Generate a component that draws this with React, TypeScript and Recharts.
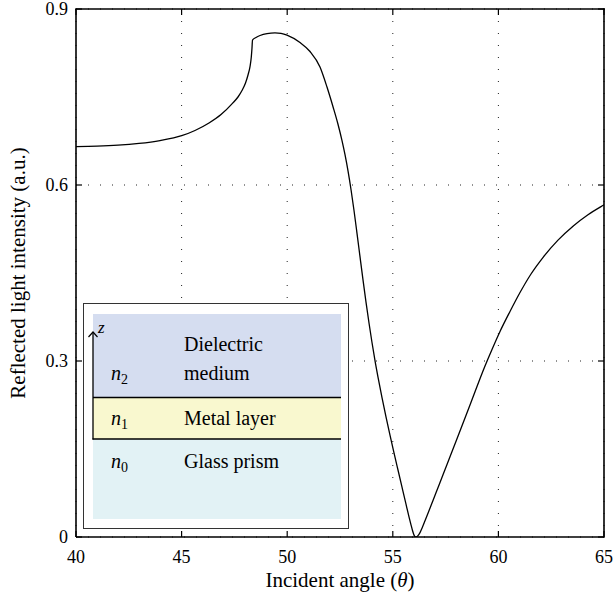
import React from 'react';
import { LineChart, Line, XAxis, YAxis, CartesianGrid } from 'recharts';

const angles = [
  40.0, 40.994, 41.989, 42.983, 43.977, 45.005, 45.634, 46.297, 46.866, 47.419, 47.67, 47.86,
  48.026, 48.144, 48.239, 48.3, 48.333, 48.357, 48.523, 48.712, 49.044, 49.422, 49.706, 49.991,
  50.606, 51.08, 51.553, 51.884, 52.169, 52.405, 52.595, 52.737, 52.879, 53.021, 53.163, 53.305,
  53.447, 53.589, 53.731, 53.873, 54.015, 54.181, 54.299, 54.489, 54.678, 54.867, 55.057, 55.246,
  55.436, 55.625, 55.767, 55.862, 55.933, 55.99, 56.037, 56.075, 56.122, 56.193, 56.288, 56.383,
  56.525, 56.69, 56.856, 57.045, 57.377, 57.708, 58.026, 58.655, 59.366, 59.697, 60.076, 60.549,
  61.023, 61.544, 62.126, 62.822, 63.546, 64.242, 64.967, 65.0,
];
const intensity = [
  0.6653, 0.6661, 0.6678, 0.6709, 0.6758, 0.684, 0.6929, 0.7057, 0.7201, 0.7396, 0.75, 0.761,
  0.7738, 0.7875, 0.8019, 0.8181, 0.8335, 0.8471, 0.8514, 0.8548, 0.8582, 0.8594, 0.8585, 0.8556,
  0.8428, 0.8275, 0.8011, 0.767, 0.7334, 0.7036, 0.6756, 0.6516, 0.624, 0.5923, 0.5565, 0.5176,
  0.4778, 0.4384, 0.4005, 0.3648, 0.3315, 0.2957, 0.2724, 0.2376, 0.2049, 0.1735, 0.1435, 0.1142,
  0.0849, 0.0559, 0.0344, 0.0208, 0.0111, 0.0046, 0.001, 0.0, 0.0003, 0.0024, 0.0075, 0.015,
  0.0276, 0.0426, 0.058, 0.0755, 0.106, 0.1369, 0.1662, 0.225, 0.2915, 0.3196, 0.3503, 0.3844,
  0.4167, 0.4483, 0.4772, 0.5061, 0.5303, 0.5494, 0.5655, 0.5662,
];
const xTicks = [40, 45, 50, 55, 60, 65];
const yTicks = [0, 0.3, 0.6, 0.9];
const yTickLabels = ['0', '0.3', '0.6', '0.9'];
const xDomain = [40, 65];
const yDomain = [0, 0.9];

const data = angles.map((a, i) => ({ angle: a, r: intensity[i] }));

const FONT = 'Liberation Serif, Times New Roman, serif';
const TL = 6;
const W = 616;
const H = 605;
const MARGIN = { top: 9, right: 12, left: 0, bottom: 0 };
const Y_AXIS_W = 76;
const X_AXIS_H = 68;
const PLOT = {
  left: MARGIN.left + Y_AXIS_W,
  top: MARGIN.top,
  right: W - MARGIN.right,
  bottom: H - MARGIN.bottom - X_AXIS_H,
};
const FRAME_W = 1.6;
const sx = (v: number) => PLOT.left + ((v - xDomain[0]) / (xDomain[1] - xDomain[0])) * (PLOT.right - PLOT.left);
const sy = (v: number) => PLOT.bottom - ((v - yDomain[0]) / (yDomain[1] - yDomain[0])) * (PLOT.bottom - PLOT.top);

const BottomTick = (p: any) => (
  <g>
    <line x1={p.x} x2={p.x} y1={p.y} y2={p.y - TL} stroke="#000" strokeWidth={1.2} />
    <text x={p.x} y={p.y + 26} textAnchor="middle" fontFamily={FONT} fontSize={18} fill="#000">
      {p.payload.value}
    </text>
  </g>
);
const LeftTick = (p: any) => {
  const v = p.payload.value;
  const idx = yTicks.indexOf(v);
  return (
    <g>
      <line x1={p.x} x2={p.x + TL} y1={p.y} y2={p.y} stroke="#000" strokeWidth={1.2} />
      <text x={p.x - 8} y={p.y + 6} textAnchor="end" fontFamily={FONT} fontSize={18} fill="#000">
        {idx >= 0 ? yTickLabels[idx] : v}
      </text>
    </g>
  );
};

const XLabel = (p: any) => {
  const vb = p.viewBox || { x: 76, y: 537, width: 528 };
  return (
    <text x={vb.x + vb.width / 2} y={vb.y + 50} textAnchor="middle" fontFamily={FONT} fontSize={21} fill="#000">
      Incident angle (<tspan fontStyle="italic">θ</tspan>)
    </text>
  );
};
const YLabel = (p: any) => {
  const vb = p.viewBox || { x: 0, y: 9, height: 528 };
  const cy = vb.y + vb.height / 2;
  return (
    <text x={25} y={cy} transform={`rotate(-90, 25, ${cy})`} textAnchor="middle" fontFamily={FONT} fontSize={21} fill="#000">
      Reflected light intensity (a.u.)
    </text>
  );
};

const Overlay = () => (
  <svg style={{ position: 'absolute', left: 0, top: 0, pointerEvents: 'none' }} width={W} height={H}>
    {/* frame (top and right edges) with inward ticks */}
    <line x1={PLOT.left - FRAME_W / 2} x2={PLOT.right + FRAME_W / 2} y1={PLOT.top} y2={PLOT.top} stroke="#000" strokeWidth={FRAME_W} />
    <line x1={PLOT.right} x2={PLOT.right} y1={PLOT.top - FRAME_W / 2} y2={PLOT.bottom + FRAME_W / 2} stroke="#000" strokeWidth={FRAME_W} />
    {xTicks.map((t) => (
      <line key={'tx' + t} x1={sx(t)} x2={sx(t)} y1={PLOT.top} y2={PLOT.top + TL} stroke="#000" strokeWidth={1.2} />
    ))}
    {yTicks.map((t) => (
      <line key={'ty' + t} x1={PLOT.right} x2={PLOT.right - TL} y1={sy(t)} y2={sy(t)} stroke="#000" strokeWidth={1.2} />
    ))}
    {/* inset diagram */}
    <rect x={83.5} y={303.5} width={265} height={225} fill="#fff" stroke="#333" strokeWidth={1} />
    <rect x={93} y={314} width={248} height={83} fill="#d5ddf0" />
    <rect x={93} y={397} width={248} height={42} fill="#f9f8cf" />
    <rect x={93} y={439} width={248} height={80} fill="#e2f2f5" />
    <line x1={93} x2={341} y1={397.5} y2={397.5} stroke="#000" strokeWidth={1.5} />
    <line x1={92.5} x2={341} y1={439} y2={439} stroke="#000" strokeWidth={1.5} />
    <line x1={93} x2={93} y1={439.5} y2={332} stroke="#000" strokeWidth={1.3} />
    <polyline points="88.5,337 93,332 97.5,337" fill="none" stroke="#000" strokeWidth={1.2} />
    <text x={98} y={333} fontFamily={FONT} fontStyle="italic" fontSize={17} fill="#000">z</text>
    <g fontFamily={FONT} fontSize={20} fill="#000">
      <text x={184} y={351}>Dielectric</text>
      <text x={184} y={380}>medium</text>
      <text x={184} y={425}>Metal layer</text>
      <text x={184} y={468}>Glass prism</text>
      <text x={111} y={380}>
        <tspan fontStyle="italic">n</tspan>
        <tspan fontSize={14} dy={4}>2</tspan>
      </text>
      <text x={111} y={425}>
        <tspan fontStyle="italic">n</tspan>
        <tspan fontSize={14} dy={4}>1</tspan>
      </text>
      <text x={111} y={468}>
        <tspan fontStyle="italic">n</tspan>
        <tspan fontSize={14} dy={4}>0</tspan>
      </text>
    </g>
  </svg>
);

export default function App() {
  return (
    <div style={{ position: 'absolute', left: 0, top: 0, width: W, height: H, background: '#fff' }}>
      <LineChart width={W} height={H} data={data} margin={MARGIN}>
        <CartesianGrid stroke="#222" strokeDasharray="1 11" strokeWidth={1} />
        <XAxis
          dataKey="angle"
          type="number"
          domain={xDomain}
          ticks={xTicks}
          allowDataOverflow
          height={X_AXIS_H}
          tickSize={0}
          tickMargin={0}
          tickLine={false}
          axisLine={{ stroke: '#000', strokeWidth: FRAME_W }}
          tick={<BottomTick />}
          interval={0}
          label={<XLabel />}
        />
        <YAxis
          type="number"
          domain={yDomain}
          ticks={yTicks}
          allowDataOverflow
          width={Y_AXIS_W}
          tickSize={0}
          tickMargin={0}
          tickLine={false}
          axisLine={{ stroke: '#000', strokeWidth: FRAME_W }}
          tick={<LeftTick />}
          interval={0}
          label={<YLabel />}
        />
        <Line
          type="monotone"
          dataKey="r"
          stroke="#000"
          strokeWidth={1.3}
          dot={false}
          activeDot={false}
          isAnimationActive={false}
        />
      </LineChart>
      <Overlay />
    </div>
  );
}
